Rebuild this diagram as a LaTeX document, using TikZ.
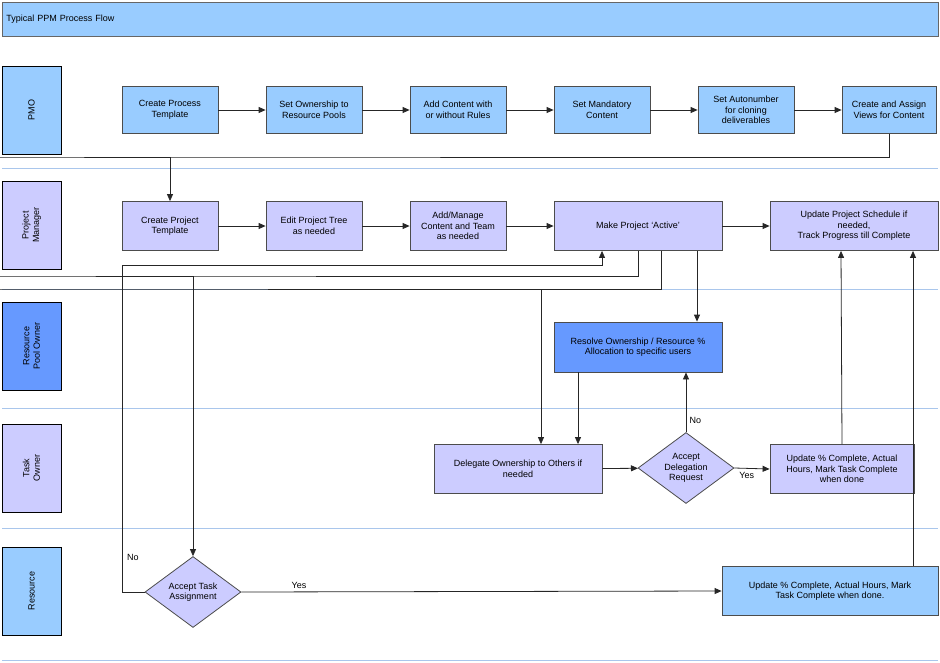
\documentclass[tikz,border=0pt]{standalone}
\usepackage{fontspec}
\setmainfont{Liberation Sans}
\usetikzlibrary{arrows.meta,positioning,shapes.geometric}
\definecolor{pmoblue}{HTML}{99CCFF}
\definecolor{pmlilac}{HTML}{CCCCFF}
\definecolor{rpblue}{HTML}{6699FF}
\definecolor{laneline}{HTML}{A9C6EC}
\begin{document}
\begin{tikzpicture}[x=1pt,y=-1pt,
        every node/.style={font=\fontsize{9}{10.5}\selectfont},
        task/.style={rectangle, draw=black!70, thick, fill=pmoblue, align=center, minimum height=47pt, inner sep=1pt},
        lane/.style={rectangle, draw=black, fill=pmoblue, minimum width=88pt, minimum height=59pt, rotate=90, align=center},
        decision/.style={diamond, draw=black!70, thick, fill=pmlilac, align=center, aspect=1.35, inner sep=0pt, minimum width=96pt, minimum height=71pt},
        flow/.style={-{Triangle[length=7pt,width=6pt]}, thick, draw=black!85},
        ]
        \useasboundingbox (0,0) rectangle (940,662);
        \node (title) [draw=black!60, thick, fill=pmoblue, minimum width=936pt, minimum height=34pt, anchor=north west, text width=928pt, align=left] at (2,2) {Typical PPM Process Flow};

        % lanes
        \node (pmo) [lane] at (31.5,110) {PMO};
        \node (pm) [lane, fill=pmlilac] at (31.5,225) {Project\\Manager};
        \node (rpo) [lane, fill=rpblue] at (31.5,346) {Resource\\Pool Owner};
        \node (to) [lane, fill=pmlilac] at (31.5,468) {Task\\Owner};
        \node (res) [lane] at (31.5,591) {Resource};
        \foreach \y in {168,289,408,528,660}
            \draw [laneline, thick] (2,\y) -- (938,\y);

        % PMO
        \node (cpt) [task, minimum width=96pt] at (170,110) {Create Process\\Template};
        \node (own) [task, minimum width=96pt] at (314,110) {Set Ownership to\\Resource Pools};
        \node (add) [task, minimum width=96pt] at (458,110) {Add Content with\\or without Rules};
        \node (man) [task, minimum width=96pt] at (602,110) {Set Mandatory\\Content};
        \node (auto) [task, minimum width=96pt] at (746,110) {Set Autonumber\\for cloning\\deliverables};
        \node (views) [task, minimum width=94pt] at (889,110) {Create and Assign\\Views for Content};

        % Project Manager
        \node (cpr) [task, fill=pmlilac, minimum width=96pt, minimum height=49pt] at (170,226) {Create Project\\Template};
        \node (tree) [task, fill=pmlilac, minimum width=96pt, minimum height=49pt] at (314,226) {Edit Project Tree\\as needed};
        \node (team) [task, fill=pmlilac, minimum width=96pt, minimum height=49pt] at (458,226) {Add/Manage\\Content and Team\\as needed};
        \node (active) [task, fill=pmlilac, minimum width=168pt, minimum height=49pt] at (638,226) {Make Project `Active'};
        \node (sched) [task, fill=pmlilac, minimum width=168pt, minimum height=49pt] at (854,226) {Update Project Schedule if\\needed,\\Track Progress till Complete};

        % Resource Pool Owner
        \node (resolve) [task, fill=rpblue, minimum width=168pt, minimum height=50pt] at (638,347) {Resolve Ownership / Resource \%\\Allocation to specific users};

        % Task Owner
        \node (deleg) [task, fill=pmlilac, minimum width=168pt, minimum height=49pt] at (518,469) {Delegate Ownership to Others if\\needed};
        \node (accdel) [decision] at (686,468) {Accept\\Delegation\\Request};
        \node (updto) [task, fill=pmlilac, minimum width=144pt, minimum height=49pt] at (842,469) {Update \% Complete, Actual\\Hours, Mark Task Complete\\when done};

        % Resource
        \node (acctask) [decision] at (193,592) {Accept Task\\Assignment};
        \node (updres) [task, minimum width=216pt, minimum height=49pt] at (830,591) {Update \% Complete, Actual Hours, Mark\\Task Complete when done.};

        \coordinate (loop) at (0,157);
        \coordinate (split) at (0,276);
        \coordinate (drop) at (0,289);
        \coordinate (back) at (122,265);
        \draw [flow] (cpt) -- (own);
        \draw [flow] (own) -- (add);
        \draw [flow] (add) -- (man);
        \draw [flow] (man) -- (auto);
        \draw [flow] (auto) -- (views);
        \draw [flow] (views.south) |- (loop) -| (cpr.north);
        \draw [flow] (cpr) -- (tree);
        \draw [flow] (tree) -- (team);
        \draw [flow] (team) -- (active);
        \draw [flow] (active) -- (sched);

        \draw [flow] (active.south) |- (split) -| (acctask.north);
        \draw [flow] ([xshift=23pt]active.south) |- (drop) -| ([xshift=23pt]deleg.north);
        \draw [flow] ([xshift=59pt]active.south) -- ([xshift=59pt]resolve.north);
        \draw [flow] ([xshift=-60pt]resolve.south) -- ([xshift=60pt]deleg.north);
        \draw [flow] (acctask.west) -| (back) -| ([xshift=-36pt]active.south);
        \node at (133,557) {No};

        \draw [flow] (deleg) -- (accdel);
        \draw [flow] (accdel.north) -- ([xshift=48pt]resolve.south) node [pos=0.2, right] {No};
        \draw [flow] (accdel.east) -- (updto.west) node [pos=0.35, below] {Yes};
        \draw [flow] (updto.north) -- ([xshift=-13pt]sched.south);
        \draw [flow] (acctask.east) -- (updres.west) node [pos=0.12, above] {Yes};
        \draw [flow] ([xshift=83pt]updres.north) -- ([xshift=59pt]sched.south);
    \end{tikzpicture}
\end{document}
